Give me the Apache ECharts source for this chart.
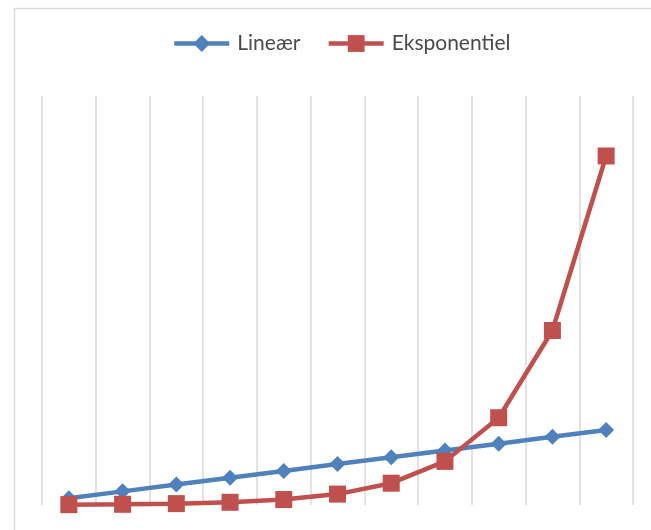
<!DOCTYPE html>
<html>
<head>
<meta charset="utf-8">
<script src="https://cdn.jsdelivr.net/npm/echarts@6/dist/echarts.min.js"></script>
<style>
  html, body { margin: 0; padding: 0; background: #ffffff; }
  #chart { width: 651px; height: 530px; }
</style>
</head>
<body>
<div id="chart"></div>
<script>
// Steps along the horizontal axis (no labels shown)
const categories = ['1', '2', '3', '4', '5', '6', '7', '8', '9', '10', '11'];
// Linear growth: constant increment per step
const linearValues = [20, 40, 60, 80, 100, 120, 140, 160, 180, 200, 220];
// Exponential growth: doubling per step
const exponentialValues = [1, 2, 4, 8, 16, 32, 64, 128, 256, 512, 1024];

const seriesNames = ['Lineær', 'Eksponentiel'];
const colors = ['#4F81BD', '#C0504D'];

const chart = echarts.init(document.getElementById('chart'), null, { renderer: 'canvas' });

chart.setOption({
  animation: false,
  backgroundColor: '#ffffff',
  color: colors,
  graphic: [{
    type: 'rect',
    left: 12,
    top: 6,
    shape: { width: 720, height: 620 },
    style: { fill: 'none', stroke: '#D9D9D9', lineWidth: 1.5 },
    silent: true,
    z: -1
  }],
  legend: {
    left: 172,
    top: 33,
    padding: 0,
    itemWidth: 55,
    itemHeight: 21,
    itemGap: 26,
    lineStyle: { width: 4.5 },
    textStyle: {
      fontFamily: 'Lato',
      fontSize: 21,
      color: '#4a4a4a',
      padding: [0, 0, 0, 3]
    },
    data: seriesNames
  },
  grid: {
    left: 42,
    right: 18,
    top: 96,
    bottom: 25,
    containLabel: false
  },
  xAxis: {
    type: 'category',
    data: categories,
    boundaryGap: true,
    axisLine: { show: false },
    axisTick: { show: false },
    axisLabel: { show: false },
    splitLine: {
      show: true,
      lineStyle: { color: '#D9D9D9', width: 1.5 }
    }
  },
  yAxis: {
    type: 'value',
    min: 0,
    max: 1200,
    interval: 200,
    axisLine: { show: false },
    axisTick: { show: false },
    axisLabel: { show: false },
    splitLine: { show: false }
  },
  series: [
    {
      name: seriesNames[0],
      type: 'line',
      data: linearValues,
      symbol: 'diamond',
      symbolSize: 16,
      lineStyle: { width: 4.5, color: colors[0] },
      itemStyle: { color: colors[0] },
      z: 2
    },
    {
      name: seriesNames[1],
      type: 'line',
      data: exponentialValues,
      symbol: 'rect',
      symbolSize: 17,
      lineStyle: { width: 4.5, color: colors[1] },
      itemStyle: { color: colors[1] },
      z: 3
    }
  ]
});
</script>
</body>
</html>
